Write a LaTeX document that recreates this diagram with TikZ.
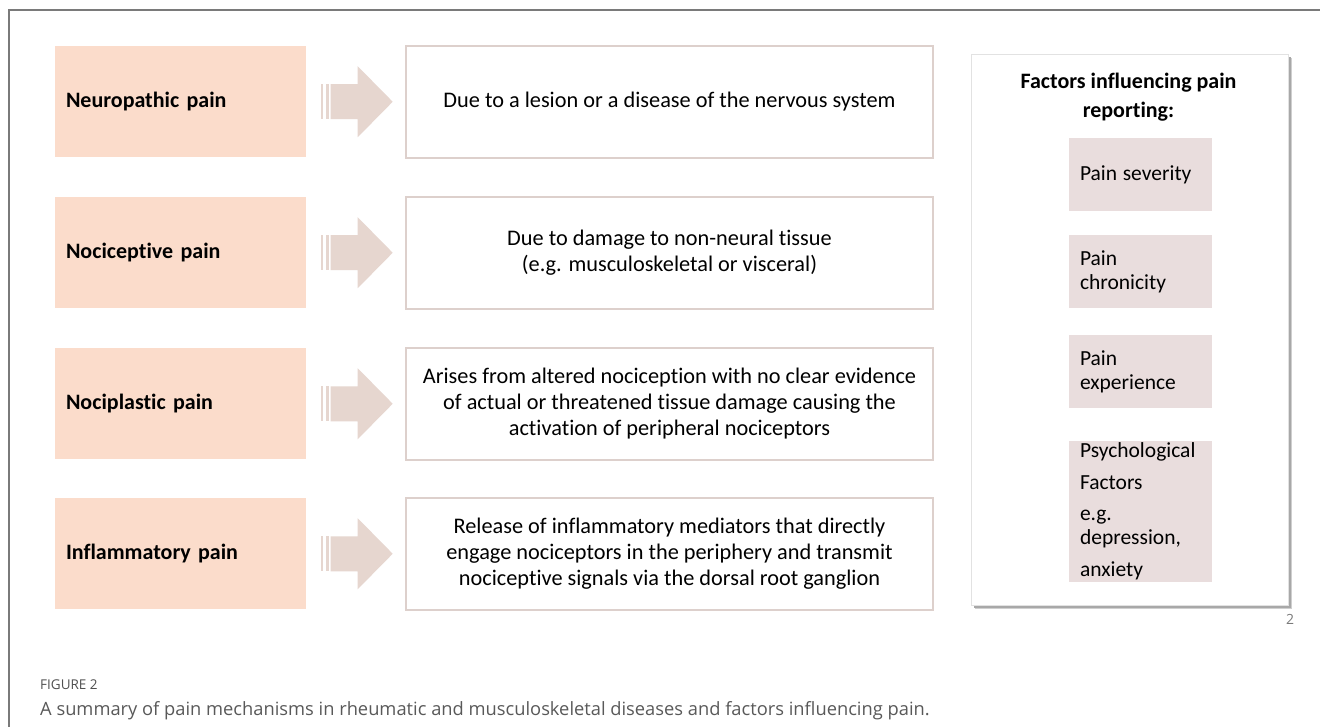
\documentclass[tikz,border=0pt]{standalone}
\usepackage{fontspec}
\usetikzlibrary{calc}
\setmainfont{Carlito}[Ligatures=NoCommon]
\newfontfamily\capfont{Open Sans}
\definecolor{leftfill}{HTML}{FBDCCB}
\definecolor{arrowc}{HTML}{E6D6CF}
\definecolor{midborder}{HTML}{DDD0CC}
\definecolor{facfill}{HTML}{E9DDDD}
\definecolor{framec}{HTML}{7A7A7A}
\definecolor{captext}{HTML}{595959}
\definecolor{panelborder}{HTML}{E2E2E2}
\definecolor{shadowc}{HTML}{A8A8A8}
\tikzset{
  lefttype/.style={fill=leftfill, draw=none, minimum height=111pt, text width=229pt, inner xsep=11pt, align=left, font=\fontsize{22}{26}\selectfont\bfseries},
  midtype/.style={fill=white, draw=midborder, line width=1.6pt, minimum width=527pt, minimum height=112pt, align=center, font=\fontsize{22.3}{26}\selectfont},
  factype/.style={fill=facfill, draw=none, text width=121pt, inner xsep=11pt, align=left, font=\fontsize{21.5}{24}\selectfont},
  pics/blockarrow/.style={code={
    \fill[arrowc] (-36,-17.5) rectangle (-33.5,17.5);
    \fill[arrowc] (-31,-17.5) rectangle (-28,17.5);
    \fill[arrowc] (-26,-17.5) -- (1,-17.5) -- (1,-35.5) -- (36,0) -- (1,35.5) -- (1,17.5) -- (-26,17.5) -- cycle;
  }}
}
\begin{document}
\begin{tikzpicture}[x=1pt,y=-1pt]
\useasboundingbox (0,0) rectangle (1320,727);
\fill[white] (0,0) rectangle (1320,727);
% outer frame
\draw[framec, line width=1.1pt] (9,727) -- (9,10) -- (1320,10);

% left boxes
\node[lefttype] (n1) at (180.5,101.5) {Neuropathic pain};
\node[lefttype] (n2) at (180.5,252.5) {Nociceptive pain};
\node[lefttype] (n3) at (180.5,403.5) {Nociplastic pain};
\node[lefttype] (n4) at (180.5,553.5) {Inflammatory pain};

% middle boxes
\node[midtype] (m1) at (669.5,102) {Due to a lesion or a disease of the nervous system};
\node[midtype] (m2) at (669.5,253) {Due to damage to non-neural tissue\\(e.g. musculoskeletal or visceral)};
\node[midtype] (m3) at (669.5,404) {Arises from altered nociception with no clear evidence\\of actual or threatened tissue damage causing the\\activation of peripheral nociceptors};
\node[midtype] (m4) at (669.5,554) {Release of inflammatory mediators that directly\\engage nociceptors in the periphery and transmit\\nociceptive signals via the dorsal root ganglion};

% arrows
\foreach \i in {1,2,3,4}{
  \path ($(n\i.east)!0.5!(m\i.west)$) coordinate (a\i);
  \pic at ([xshift=1pt]a\i) {blockarrow};
}

% right panel
\fill[shadowc!55] (975,58) rectangle (1292,609);
\fill[shadowc] (974,57) rectangle (1290.5,607.5);
\node[fill=white, draw=panelborder, line width=0.6pt, minimum width=317pt, minimum height=551pt] (panel) at (1129.5,329.5) {};
\node[font=\fontsize{22}{29}\selectfont\bfseries, align=center] (title) at (1128.5,97.5) {Factors influencing pain\\reporting:};

\node[factype, minimum height=73pt] (f1) at (1140.5,174.5) {Pain\hspace{-1.5pt} severity};
\node[factype, minimum height=73pt] (f2) at (1140.5,271.5) {Pain\\chronicity};
\node[factype, minimum height=73pt] (f3) at (1140.5,371.5) {Pain\\experience};
\node[factype, minimum height=141pt, inner ysep=0pt] (f4) at (1140.5,511.5) {Psychological\\[8pt]Factors\\[7pt]e.g.\\depression,\\[8pt]anxiety};

\node[font=\capfont\fontsize{14}{16}\selectfont, text=captext!80, anchor=center] (pg) at (1290,619) {2};

% caption
\node[font=\capfont\fontsize{13.5}{16}\selectfont, text=captext!90!black, anchor=west, inner sep=0pt] (figlab) at (40,685) {FIGURE 2};
\node[font=\capfont\fontsize{18.3}{22}\selectfont, text=captext, anchor=west, inner sep=0pt] (cap) at (40,711) {A summary of pain mechanisms in rheumatic and musculoskeletal diseases and factors influencing pain.};
\end{tikzpicture}
\end{document}
